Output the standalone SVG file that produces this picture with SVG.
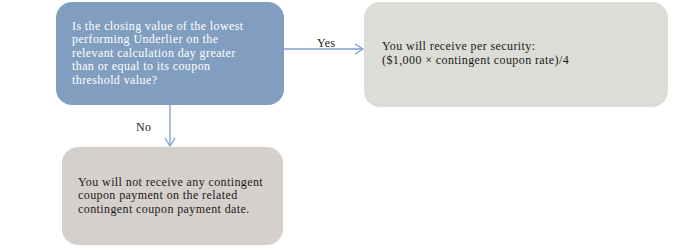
<svg xmlns="http://www.w3.org/2000/svg" width="676" height="250" viewBox="0 0 676 250">
<style>
.t{font-family:"Liberation Serif","Times New Roman",serif;font-size:12px;letter-spacing:0.4px}
.w{fill:#ffffff}
.d{fill:#1a1a1a}
.c{stroke:#7f9ed2;stroke-width:1.3;fill:none}
</style>
<defs>
<marker id="ah" markerWidth="12" markerHeight="12" refX="10" refY="6" orient="auto" markerUnits="userSpaceOnUse">
<path d="M2,1 L10,6 L2,11" fill="none" stroke="#7f9ed2" stroke-width="1.3"/>
</marker>
</defs>
<rect width="676" height="250" fill="#ffffff"/>
<g id="connectors">
<line class="c" x1="284" y1="49" x2="363" y2="49" marker-end="url(#ah)"/>
<text class="t d" x="317" y="47">Yes</text>
<line class="c" x1="170" y1="105" x2="170" y2="146" marker-end="url(#ah)"/>
<text class="t d" x="136" y="131">No</text>
</g>
<g id="question">
<rect x="56" y="2" width="228" height="103" rx="16" fill="#819ec1"/>
<text class="t w" x="72" y="30">Is the closing value of the lowest<tspan x="72" dy="13.4">performing Underlier on the</tspan><tspan x="72" dy="13.4">relevant calculation day greater</tspan><tspan x="72" dy="13.4">than or equal to its coupon</tspan><tspan x="72" dy="13.4">threshold value?</tspan></text>
</g>
<g id="yes">
<rect x="364" y="2" width="304" height="105" rx="16" fill="#dcddd6"/>
<text class="t d" x="382" y="50.3">You will receive per security:<tspan x="382" dy="13.4">($1,000 × contingent coupon rate)/4</tspan></text>
</g>
<g id="no">
<rect x="62" y="147" width="221" height="98" rx="16" fill="#d6d0cd"/>
<text class="t d" x="78" y="186">You will not receive any contingent<tspan x="78" dy="13.4">coupon payment on the related</tspan><tspan x="78" dy="13.4">contingent coupon payment date.</tspan></text>
</g>
</svg>
